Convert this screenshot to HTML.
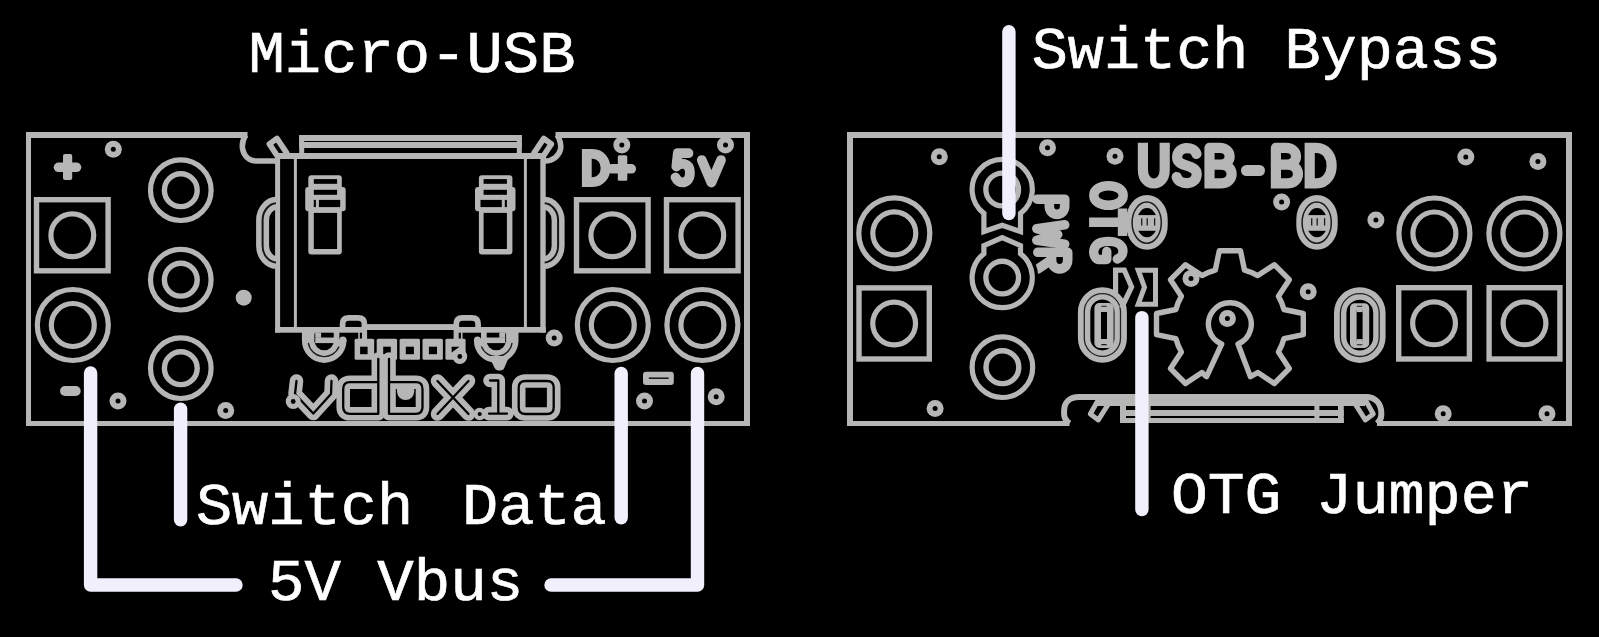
<!DOCTYPE html>
<html><head><meta charset="utf-8"><title>USB-BD board diagram</title>
<style>
html,body{margin:0;padding:0;background:#000;overflow:hidden;}
svg{display:block;font-family:"Liberation Sans",sans-serif;}
</style></head>
<body>
<svg width="1599" height="637" viewBox="0 0 1599 637">
<rect x="0" y="0" width="1599" height="637" fill="#000"/>
<g id="left-board">
<rect x="26" y="132" width="5.00" height="294.00" fill="#b6b6b6" rx="0"/>
<rect x="26" y="132" width="221.50" height="6.00" fill="#b6b6b6" rx="0"/>
<rect x="555.5" y="132" width="194.50" height="6.00" fill="#b6b6b6" rx="0"/>
<rect x="744" y="132" width="6.00" height="294.00" fill="#b6b6b6" rx="0"/>
<rect x="26" y="421" width="724.00" height="5.00" fill="#b6b6b6" rx="0"/>
<path d="M 245.6 135.0 C 243.3 139 241.7 144 242.6 149 C 244 156 249 161 257 161 H 277.5" fill="none" stroke="#b6b6b6" stroke-width="5.6" stroke-linecap="butt" stroke-linejoin="round" />
<path d="M 557.5 134.9 C 559.5 139 561.5 144 560.6 149 C 559 156 553 161 545 161" fill="none" stroke="#b6b6b6" stroke-width="5.6" stroke-linecap="butt" stroke-linejoin="round" />
<path d="M 58.5 167.3 H 76.5" fill="none" stroke="#b6b6b6" stroke-width="9.6" stroke-linecap="round" stroke-linejoin="round" />
<rect x="63.0" y="154" width="9.20" height="26.00" fill="#b6b6b6" rx="2"/>
<path d="M 65 391 H 75.7" fill="none" stroke="#b6b6b6" stroke-width="10" stroke-linecap="round" stroke-linejoin="round" />
<circle cx="113.3" cy="149.3" r="8.5" fill="#b6b6b6"/><circle cx="113.3" cy="149.3" r="2.5" fill="#000"/>
<circle cx="118" cy="401" r="8.5" fill="#b6b6b6"/><circle cx="118" cy="401" r="2.5" fill="#000"/>
<circle cx="225.7" cy="410.5" r="8.5" fill="#b6b6b6"/><circle cx="225.7" cy="410.5" r="2.5" fill="#000"/>
<circle cx="621.8" cy="144.9" r="8.5" fill="#b6b6b6"/><circle cx="621.8" cy="144.9" r="2.5" fill="#000"/>
<circle cx="725.5" cy="144.9" r="8.5" fill="#b6b6b6"/><circle cx="725.5" cy="144.9" r="2.5" fill="#000"/>
<circle cx="554.2" cy="338" r="8.5" fill="#b6b6b6"/><circle cx="554.2" cy="338" r="2.5" fill="#000"/>
<circle cx="644.5" cy="401" r="8.5" fill="#b6b6b6"/><circle cx="644.5" cy="401" r="2.5" fill="#000"/>
<circle cx="716.2" cy="396.8" r="8.5" fill="#b6b6b6"/><circle cx="716.2" cy="396.8" r="2.5" fill="#000"/>
<circle cx="243.7" cy="297.7" r="8" fill="#b6b6b6"/>
<rect x="36.5" y="199.7" width="71.6" height="71.1" fill="none" stroke="#b6b6b6" stroke-width="5.4"/>
<circle cx="72.3" cy="235.25" r="21.40" fill="none" stroke="#b6b6b6" stroke-width="5.2"/>
<circle cx="72.8" cy="325" r="35.50" fill="none" stroke="#b6b6b6" stroke-width="5.2"/>
<circle cx="72.8" cy="325" r="21.50" fill="none" stroke="#b6b6b6" stroke-width="5.2"/>
<circle cx="180.8" cy="190.2" r="30.30" fill="none" stroke="#b6b6b6" stroke-width="5.2"/>
<circle cx="180.8" cy="190.2" r="16.40" fill="none" stroke="#b6b6b6" stroke-width="5.4"/>
<circle cx="180.8" cy="279.7" r="30.30" fill="none" stroke="#b6b6b6" stroke-width="5.2"/>
<circle cx="180.8" cy="279.7" r="16.40" fill="none" stroke="#b6b6b6" stroke-width="5.4"/>
<circle cx="180.8" cy="368.2" r="30.30" fill="none" stroke="#b6b6b6" stroke-width="5.2"/>
<circle cx="180.8" cy="368.2" r="16.40" fill="none" stroke="#b6b6b6" stroke-width="5.4"/>
<rect x="576.5" y="199.7" width="71.6" height="71.1" fill="none" stroke="#b6b6b6" stroke-width="5.4"/>
<circle cx="612.3" cy="235.25" r="21.40" fill="none" stroke="#b6b6b6" stroke-width="5.2"/>
<rect x="666.5" y="199.7" width="71.6" height="71.1" fill="none" stroke="#b6b6b6" stroke-width="5.4"/>
<circle cx="702.3" cy="235.25" r="21.40" fill="none" stroke="#b6b6b6" stroke-width="5.2"/>
<circle cx="612.8" cy="325" r="35.50" fill="none" stroke="#b6b6b6" stroke-width="5.2"/>
<circle cx="612.8" cy="325" r="21.50" fill="none" stroke="#b6b6b6" stroke-width="5.2"/>
<circle cx="702.4" cy="325" r="35.50" fill="none" stroke="#b6b6b6" stroke-width="5.2"/>
<circle cx="702.4" cy="325" r="21.50" fill="none" stroke="#b6b6b6" stroke-width="5.2"/>
<rect x="643" y="371.8" width="30.80" height="13.20" fill="#b6b6b6" rx="3"/>
<path d="M 648.8 378.2 H 668.6" fill="none" stroke="#111" stroke-width="1.5" stroke-linecap="butt" stroke-linejoin="round" />
<rect x="275.1" y="153" width="270.70" height="6.00" fill="#b6b6b6" rx="0"/>
<path d="M 277.6 154 V 332.6" fill="none" stroke="#b6b6b6" stroke-width="5.0" stroke-linecap="butt" stroke-linejoin="round" />
<path d="M 543.0 154 V 332.6" fill="none" stroke="#b6b6b6" stroke-width="5.4" stroke-linecap="butt" stroke-linejoin="round" />
<path d="M 295.4 156 V 330" fill="none" stroke="#b6b6b6" stroke-width="3.0" stroke-linecap="butt" stroke-linejoin="round" />
<path d="M 525.4 156 V 330" fill="none" stroke="#b6b6b6" stroke-width="3.0" stroke-linecap="butt" stroke-linejoin="round" />
<rect x="299.2" y="135" width="222.60" height="6.00" fill="#b6b6b6" rx="0"/>
<rect x="299.2" y="142" width="222.60" height="6.00" fill="#b6b6b6" rx="0"/>
<path d="M 301.7 135.2 V 156" fill="none" stroke="#b6b6b6" stroke-width="5.0" stroke-linecap="butt" stroke-linejoin="round" />
<path d="M 519.3 135.2 V 156" fill="none" stroke="#b6b6b6" stroke-width="5.0" stroke-linecap="butt" stroke-linejoin="round" />
<path d="M 278.3 157.4 L 269.4 144.1 L 276.9 138.4 L 287.4 154.2" fill="none" stroke="#b6b6b6" stroke-width="5.7" stroke-linecap="butt" stroke-linejoin="round" />
<path d="M 542.4 157.4 L 551.3 144.1 L 543.8 138.4 L 533.3 154.2" fill="none" stroke="#b6b6b6" stroke-width="5.7" stroke-linecap="butt" stroke-linejoin="round" />
<rect x="275.1" y="327" width="89.40" height="5.70" fill="#b6b6b6" rx="0"/>
<rect x="456.2" y="327" width="89.60" height="5.70" fill="#b6b6b6" rx="0"/>
<rect x="364.5" y="324.1" width="91.70" height="5.90" fill="#b6b6b6" rx="0"/>
<path d="M 342.6 330 V 324 Q 342.6 317.9 348.8 317.9 H 358.2 Q 364.4 317.9 364.4 324 V 330" fill="none" stroke="#b6b6b6" stroke-width="5.7" stroke-linecap="butt" stroke-linejoin="round" />
<path d="M 456.30000000000007 330 V 324 Q 456.30000000000007 317.9 462.50000000000006 317.9 H 471.90000000000003 Q 478.1 317.9 478.1 324 V 330" fill="none" stroke="#b6b6b6" stroke-width="5.7" stroke-linecap="butt" stroke-linejoin="round" />
<path d="M 308.2 331 V 340.6 A 16 16 0 0 0 340.2 340.6" fill="none" stroke="#b6b6b6" stroke-width="12.6" stroke-linecap="butt" stroke-linejoin="round" />
<rect x="333.7" y="331" width="5.70" height="10.50" fill="#b6b6b6" rx="0"/>
<rect x="339.2" y="339.6" width="7.20" height="1.60" fill="#b6b6b6" rx="0"/>
<circle cx="342.9" cy="340.2" r="3.6" fill="#b6b6b6"/>
<rect x="314.0" y="337.5" width="20.40" height="5.60" fill="#b6b6b6" rx="0"/>
<rect x="313.2" y="332.4" width="7.90" height="5.40" fill="#b6b6b6" rx="0"/>
<path d="M 308.36 342.83 A 16 16 0 0 0 339.03 346.59" fill="none" stroke="#1a1a1a" stroke-width="1.3" stroke-linecap="butt" stroke-linejoin="round" />
<path d="M 314.8 333.4 V 342.5" fill="none" stroke="#1a1a1a" stroke-width="1.0" stroke-linecap="butt" stroke-linejoin="round" />
<path d="M 512.2 331 V 340.6 A 16 16 0 0 1 480.2 340.6" fill="none" stroke="#b6b6b6" stroke-width="12.6" stroke-linecap="butt" stroke-linejoin="round" />
<rect x="481.0" y="331" width="5.70" height="10.50" fill="#b6b6b6" rx="0"/>
<rect x="474.0" y="339.6" width="7.20" height="1.60" fill="#b6b6b6" rx="0"/>
<circle cx="477.5" cy="340.2" r="3.6" fill="#b6b6b6"/>
<rect x="486.0" y="337.5" width="20.40" height="5.60" fill="#b6b6b6" rx="0"/>
<rect x="499.3" y="332.4" width="7.90" height="5.40" fill="#b6b6b6" rx="0"/>
<path d="M 512.04 342.83 A 16 16 0 0 1 481.37 346.59" fill="none" stroke="#1a1a1a" stroke-width="1.3" stroke-linecap="butt" stroke-linejoin="round" />
<path d="M 505.59999999999997 333.4 V 342.5" fill="none" stroke="#1a1a1a" stroke-width="1.0" stroke-linecap="butt" stroke-linejoin="round" />
<path d="M 488.5 356 C 492 362 493.5 366 495 368.5 C 496.6 371.2 502.4 371.2 504 368.5 C 505.5 366 506.5 362 509.5 356 Z" fill="#b6b6b6"/>
<rect x="358.2" y="329" width="8.90" height="11.00" fill="#b6b6b6" rx="0"/>
<rect x="453.6" y="329" width="8.90" height="11.00" fill="#b6b6b6" rx="0"/>
<rect x="359.8" y="332.7" width="2.20" height="6.00" fill="#000" rx="0"/>
<rect x="458.7" y="332.7" width="2.20" height="6.00" fill="#000" rx="0"/>
<rect x="354.6" y="338.7" width="19.60" height="21.10" fill="#b6b6b6" rx="1.5"/>
<rect x="376.7" y="338.7" width="20.40" height="21.10" fill="#b6b6b6" rx="1.5"/>
<rect x="399.6" y="338.7" width="20.40" height="21.10" fill="#b6b6b6" rx="1.5"/>
<rect x="422.5" y="338.7" width="20.40" height="21.10" fill="#b6b6b6" rx="1.5"/>
<rect x="445.4" y="338.7" width="20.20" height="21.10" fill="#b6b6b6" rx="1.5"/>
<rect x="360.1" y="346.7" width="7.50" height="7.50" fill="#000" rx="0"/>
<rect x="383.2" y="346.7" width="7.60" height="7.50" fill="#000" rx="0"/>
<rect x="405.8" y="346.7" width="8.10" height="7.50" fill="#000" rx="0"/>
<rect x="428.9" y="346.7" width="8.10" height="7.50" fill="#000" rx="0"/>
<path d="M 451.6 346.7 H 459.6 L 451.6 352.6 Z" fill="#000"/>
<circle cx="459.8" cy="356.5" r="7.4" fill="#b6b6b6"/><circle cx="459.8" cy="356.5" r="2.4" fill="#000"/>
<rect x="308.3" y="175.2" width="33.50" height="79.30" fill="#b6b6b6" rx="3"/>
<rect x="305.2" y="187" width="40.50" height="24.30" fill="#b6b6b6" rx="3"/>
<rect x="313.8" y="179.1" width="23.30" height="4.70" fill="#000" rx="0"/>
<rect x="313.8" y="189.8" width="23.30" height="5.00" fill="#000" rx="0"/>
<rect x="313.8" y="199.9" width="2.10" height="7.20" fill="#000" rx="0"/>
<rect x="318.9" y="199.9" width="21.30" height="7.20" fill="#000" rx="0"/>
<rect x="313.8" y="212.9" width="23.30" height="36.10" fill="#000" rx="0"/>
<rect x="478.90000000000003" y="175.2" width="33.50" height="79.30" fill="#b6b6b6" rx="3"/>
<rect x="475.00000000000006" y="187" width="40.50" height="24.30" fill="#b6b6b6" rx="3"/>
<rect x="483.6" y="179.1" width="23.30" height="4.70" fill="#000" rx="0"/>
<rect x="483.6" y="189.8" width="23.30" height="5.00" fill="#000" rx="0"/>
<rect x="504.80000000000007" y="199.9" width="2.10" height="7.20" fill="#000" rx="0"/>
<rect x="480.50000000000006" y="199.9" width="21.30" height="7.20" fill="#000" rx="0"/>
<rect x="483.6" y="212.9" width="23.30" height="36.10" fill="#000" rx="0"/>
<path d="M 276 203.3 C 270 203.5 262.6 210 262.6 220 V 246 C 262.6 256 270 262.3 276 262.5" fill="none" stroke="#b6b6b6" stroke-width="13.0" stroke-linecap="butt" stroke-linejoin="round" />
<path d="M 276 203.3 C 270 203.5 262.6 210 262.6 220 V 246 C 262.6 256 270 262.3 276 262.5" fill="none" stroke="#151515" stroke-width="2.0" stroke-linecap="butt" stroke-linejoin="round" />
<path d="M 544.7 203.3 C 550.7 203.5 558.1 210 558.1 220 V 246 C 558.1 256 550.7 262.3 544.7 262.5" fill="none" stroke="#b6b6b6" stroke-width="13.0" stroke-linecap="butt" stroke-linejoin="round" />
<path d="M 544.7 203.3 C 550.7 203.5 558.1 210 558.1 220 V 246 C 558.1 256 550.7 262.3 544.7 262.5" fill="none" stroke="#151515" stroke-width="2.0" stroke-linecap="butt" stroke-linejoin="round" />
</g>
<g id="logo">
<path d="M 296.5 381 L 295 394 L 313.3 413.5 L 331 394 L 331.5 381" fill="none" stroke="#b6b6b6" stroke-width="13.6" stroke-linecap="round" stroke-linejoin="round" />
<path d="M 378.3 359 V 413.8 H 350 Q 343.2 413.8 343.2 407 V 389 Q 343.2 382.2 350 382.2 H 378.3" fill="none" stroke="#b6b6b6" stroke-width="13.6" stroke-linecap="round" stroke-linejoin="round" />
<path d="M 389 359 V 413.8 H 416 Q 422.5 413.8 422.5 407 V 389 Q 422.5 382.2 416 382.2 H 389" fill="none" stroke="#b6b6b6" stroke-width="13.6" stroke-linecap="round" stroke-linejoin="round" />
<path d="M 437.5 381 L 468.5 414 M 468.5 381 L 437.5 414" fill="none" stroke="#b6b6b6" stroke-width="13.6" stroke-linecap="round" stroke-linejoin="round" />
<path d="M 490 380.5 H 498.3 V 413.5 M 489 413.6 H 507" fill="none" stroke="#b6b6b6" stroke-width="13.6" stroke-linecap="round" stroke-linejoin="round" />
<path d="M 525.5 381 H 547 Q 553.7 381 553.7 387.5 V 407.5 Q 553.7 414 547 414 H 525.5 Q 518.7 414 518.7 407.5 V 387.5 Q 518.7 381 525.5 381 Z" fill="none" stroke="#b6b6b6" stroke-width="13.6" stroke-linecap="round" stroke-linejoin="round" />
<circle cx="479.7" cy="414" r="6.2" fill="#b6b6b6"/>
<path d="M 296.5 381 L 295 394 L 313.3 413.5 L 331 394 L 331.5 381" fill="none" stroke="#000" stroke-width="2.3" stroke-linecap="round" stroke-linejoin="round" />
<path d="M 378.3 359 V 413.8 H 350 Q 343.2 413.8 343.2 407 V 389 Q 343.2 382.2 350 382.2 H 378.3" fill="none" stroke="#000" stroke-width="2.3" stroke-linecap="round" stroke-linejoin="round" />
<path d="M 389 359 V 413.8 H 416 Q 422.5 413.8 422.5 407 V 389 Q 422.5 382.2 416 382.2 H 389" fill="none" stroke="#000" stroke-width="2.3" stroke-linecap="round" stroke-linejoin="round" />
<path d="M 437.5 381 L 468.5 414 M 468.5 381 L 437.5 414" fill="none" stroke="#000" stroke-width="2.3" stroke-linecap="round" stroke-linejoin="round" />
<path d="M 490 380.5 H 498.3 V 413.5 M 489 413.6 H 507" fill="none" stroke="#000" stroke-width="2.3" stroke-linecap="round" stroke-linejoin="round" />
<path d="M 525.5 381 H 547 Q 553.7 381 553.7 387.5 V 407.5 Q 553.7 414 547 414 H 525.5 Q 518.7 414 518.7 407.5 V 387.5 Q 518.7 381 525.5 381 Z" fill="none" stroke="#000" stroke-width="2.3" stroke-linecap="round" stroke-linejoin="round" />
<circle cx="479.7" cy="414" r="2.1" fill="#000"/>
<path d="M 397 387.7 H 414.2 V 391.5 A 8.6 8.6 0 0 1 397 391.5 Z" fill="#b6b6b6"/>
<circle cx="293.2" cy="401.5" r="7.5" fill="#b6b6b6"/><circle cx="293.2" cy="401.5" r="2.4" fill="#000"/>
</g>
<g id="right-board">
<rect x="847" y="132" width="6.00" height="294.00" fill="#b6b6b6" rx="0"/>
<rect x="847" y="132" width="725.00" height="6.00" fill="#b6b6b6" rx="0"/>
<rect x="1566" y="132" width="6.00" height="294.00" fill="#b6b6b6" rx="0"/>
<rect x="847" y="421" width="222.50" height="5.00" fill="#b6b6b6" rx="0"/>
<rect x="1377" y="421" width="195.00" height="5.00" fill="#b6b6b6" rx="0"/>
<path d="M 1069.5 423.5 C 1066 421 1064.1 419 1064.1 414 V 411 C 1064.1 402 1070 397 1079 397 H 1100" fill="none" stroke="#b6b6b6" stroke-width="6" stroke-linecap="butt" stroke-linejoin="round" />
<path d="M 1377 423.5 C 1380 421 1381.3 419 1381.3 415 V 413 C 1381.3 403 1375 397 1366 397 H 1350" fill="none" stroke="#b6b6b6" stroke-width="6" stroke-linecap="butt" stroke-linejoin="round" />
<rect x="1096" y="394" width="269.00" height="12.00" fill="#b6b6b6" rx="0"/>
<rect x="1120" y="410" width="223.70" height="6.00" fill="#b6b6b6" rx="0"/>
<rect x="1120" y="418" width="223.70" height="5.00" fill="#b6b6b6" rx="0"/>
<rect x="1120" y="404" width="6.00" height="19.00" fill="#b6b6b6" rx="0"/>
<rect x="1148" y="404" width="2.60" height="19.00" fill="#b6b6b6" rx="0"/>
<rect x="1314.4" y="404" width="5.00" height="19.00" fill="#b6b6b6" rx="0"/>
<rect x="1338" y="404" width="5.75" height="19.00" fill="#b6b6b6" rx="0"/>
<path d="M 1098.5 399.5 L 1090.3 414.0 L 1098.3 419.9 L 1110.3 401.0" fill="none" stroke="#b6b6b6" stroke-width="5.0" stroke-linecap="butt" stroke-linejoin="round" />
<path d="M 1365.1 399.5 L 1373.3 414.0 L 1365.3 419.9 L 1353.3 401.0" fill="none" stroke="#b6b6b6" stroke-width="5.0" stroke-linecap="butt" stroke-linejoin="round" />
<circle cx="894.3" cy="233.3" r="35.50" fill="none" stroke="#b6b6b6" stroke-width="5.2"/>
<circle cx="894.3" cy="233.3" r="21.50" fill="none" stroke="#b6b6b6" stroke-width="5.2"/>
<rect x="859.0" y="287.9" width="70.30000000000004" height="71.1" fill="none" stroke="#b6b6b6" stroke-width="5.4"/>
<circle cx="894.15" cy="323.45" r="21.40" fill="none" stroke="#b6b6b6" stroke-width="5.2"/>
<circle cx="1434.4" cy="233.5" r="35.50" fill="none" stroke="#b6b6b6" stroke-width="5.2"/>
<circle cx="1434.4" cy="233.5" r="21.50" fill="none" stroke="#b6b6b6" stroke-width="5.2"/>
<circle cx="1524.4" cy="233.5" r="35.50" fill="none" stroke="#b6b6b6" stroke-width="5.2"/>
<circle cx="1524.4" cy="233.5" r="21.50" fill="none" stroke="#b6b6b6" stroke-width="5.2"/>
<rect x="1398.7" y="287.7" width="70.6999999999999" height="71.29999999999998" fill="none" stroke="#b6b6b6" stroke-width="5.4"/>
<circle cx="1434.05" cy="323.35" r="21.40" fill="none" stroke="#b6b6b6" stroke-width="5.2"/>
<rect x="1489.1000000000001" y="287.7" width="70.79999999999981" height="71.29999999999998" fill="none" stroke="#b6b6b6" stroke-width="5.4"/>
<circle cx="1524.5" cy="323.35" r="21.40" fill="none" stroke="#b6b6b6" stroke-width="5.2"/>
<circle cx="1002.4" cy="367.2" r="30.30" fill="none" stroke="#b6b6b6" stroke-width="5.2"/>
<circle cx="1002.4" cy="367.2" r="16.40" fill="none" stroke="#b6b6b6" stroke-width="5.4"/>
<path d="M 983.9 231.5 V 213.4 A 30.1 30.1 0 1 1 1020.5 213.4 V 231.5 L 1002.2 225.2 Z" fill="none" stroke="#b6b6b6" stroke-width="5.2" stroke-linecap="butt" stroke-linejoin="miter" />
<path d="M 983.9 245.6 V 253.7 A 30.1 30.1 0 1 0 1020.5 253.7 V 245.6 L 1002.2 237.6 Z" fill="none" stroke="#b6b6b6" stroke-width="5.2" stroke-linecap="butt" stroke-linejoin="miter" />
<circle cx="1002.2" cy="189.5" r="16.35" fill="none" stroke="#b6b6b6" stroke-width="5.3"/>
<circle cx="1002.2" cy="277.6" r="16.35" fill="none" stroke="#b6b6b6" stroke-width="5.3"/>
<circle cx="939.3" cy="156.8" r="8.5" fill="#b6b6b6"/><circle cx="939.3" cy="156.8" r="2.5" fill="#000"/>
<circle cx="1047.5" cy="147.8" r="8.5" fill="#b6b6b6"/><circle cx="1047.5" cy="147.8" r="2.5" fill="#000"/>
<circle cx="1115" cy="156.3" r="8.5" fill="#b6b6b6"/><circle cx="1115" cy="156.3" r="2.5" fill="#000"/>
<circle cx="1281.6" cy="202" r="8.5" fill="#b6b6b6"/><circle cx="1281.6" cy="202" r="2.5" fill="#000"/>
<circle cx="1465.8" cy="156.9" r="8.5" fill="#b6b6b6"/><circle cx="1465.8" cy="156.9" r="2.5" fill="#000"/>
<circle cx="1537.9" cy="161.4" r="8.5" fill="#b6b6b6"/><circle cx="1537.9" cy="161.4" r="2.5" fill="#000"/>
<circle cx="1375.9" cy="220" r="8.5" fill="#b6b6b6"/><circle cx="1375.9" cy="220" r="2.5" fill="#000"/>
<circle cx="935.1" cy="408.6" r="8.5" fill="#b6b6b6"/><circle cx="935.1" cy="408.6" r="2.5" fill="#000"/>
<circle cx="1443.2" cy="413.7" r="8.5" fill="#b6b6b6"/><circle cx="1443.2" cy="413.7" r="2.5" fill="#000"/>
<circle cx="1547" cy="413.7" r="8.5" fill="#b6b6b6"/><circle cx="1547" cy="413.7" r="2.5" fill="#000"/>
<circle cx="1308.2" cy="291.8" r="8.5" fill="#b6b6b6"/><circle cx="1308.2" cy="291.8" r="2.5" fill="#000"/>
<circle cx="1191" cy="278.4" r="8.5" fill="#b6b6b6"/><circle cx="1191" cy="278.4" r="2.5" fill="#000"/>
<circle cx="1227.4" cy="318.6" r="8.5" fill="#b6b6b6"/><circle cx="1227.4" cy="318.6" r="2.5" fill="#000"/>
</g>
<g id="gear">
<path d="M 1221.7 344.0 L 1206.6 376.6 L 1202.0 372.6 L 1185.5 383.5 L 1170.5 368.5 L 1181.4 352.0 A 56 56 0 0 1 1175.9 338.7 L 1156.5 334.7 L 1156.5 313.5 L 1175.9 309.5 A 56 56 0 0 1 1181.4 296.2 L 1170.5 279.7 L 1185.5 264.7 L 1202.0 275.6 A 56 56 0 0 1 1215.3 270.1 L 1219.3 250.7 L 1240.5 250.7 L 1244.5 270.1 A 56 56 0 0 1 1257.8 275.6 L 1274.3 264.7 L 1289.3 279.7 L 1278.4 296.2 A 56 56 0 0 1 1283.9 309.5 L 1303.3 313.5 L 1303.3 334.7 L 1283.9 338.7 A 56 56 0 0 1 1278.4 352.0 L 1289.3 368.5 L 1274.3 383.5 L 1257.8 372.6 L 1250.4 376.6 L 1238.0 344.0 A 21.4 21.4 0 1 0 1221.7 344.0 Z" fill="none" stroke="#b6b6b6" stroke-width="5.4" stroke-linecap="butt" stroke-linejoin="round" />
</g>
<g id="silk">
<path d="M 1142.90 147.90 L 1142.90 169.91 C 1142.90 188.01 1164.70 188.01 1164.70 169.91 L 1164.70 147.90" fill="none" stroke="#b6b6b6" stroke-width="10.2" stroke-linecap="square" stroke-linejoin="round" />
<path d="M 1196.49 153.94 C 1194.04 145.77 1177.11 145.41 1177.11 157.49 C 1177.11 167.78 1196.69 163.52 1196.69 174.17 C 1196.69 185.88 1179.15 185.53 1176.70 177.01" fill="none" stroke="#b6b6b6" stroke-width="10.2" stroke-linecap="round" stroke-linejoin="round" />
<path d="M 1209.50 147.90 L 1209.50 183.40 L 1220.60 183.40 C 1235.25 183.40 1235.25 164.59 1220.60 164.59 L 1209.50 164.59 M 1220.60 164.59 C 1232.81 164.59 1232.81 147.90 1219.49 147.90 L 1209.50 147.90" fill="none" stroke="#b6b6b6" stroke-width="10.2" stroke-linecap="round" stroke-linejoin="miter" />
<path d="M 1246.5 170.5 H 1259.5" fill="none" stroke="#b6b6b6" stroke-width="11" stroke-linecap="round" stroke-linejoin="round" />
<path d="M 1275.90 147.90 L 1275.90 183.40 L 1287.00 183.40 C 1301.65 183.40 1301.65 164.59 1287.00 164.59 L 1275.90 164.59 M 1287.00 164.59 C 1299.21 164.59 1299.21 147.90 1285.89 147.90 L 1275.90 147.90" fill="none" stroke="#b6b6b6" stroke-width="10.2" stroke-linecap="round" stroke-linejoin="miter" />
<path d="M 1309.70 147.90 L 1309.70 183.40 L 1316.30 183.40 C 1336.76 183.40 1336.76 147.90 1316.30 147.90 Z" fill="none" stroke="#b6b6b6" stroke-width="10.2" stroke-linecap="round" stroke-linejoin="miter" />
<path d="M 586.80 153.90 L 586.80 182.10 L 592.44 182.10 C 609.92 182.10 609.92 153.90 592.44 153.90 Z" fill="none" stroke="#b6b6b6" stroke-width="9.8" stroke-linecap="round" stroke-linejoin="miter" />
<path d="M 612 168.8 H 631.3" fill="none" stroke="#b6b6b6" stroke-width="9.6" stroke-linecap="round" stroke-linejoin="round" />
<rect x="617.8" y="155.2" width="9.50" height="25.60" fill="#b6b6b6" rx="1.5"/>
<path d="M 688.46 153.20 L 677.80 153.20 L 676.36 166.49 C 679.82 162.45 689.90 161.87 689.90 172.85 C 689.90 184.99 678.38 184.41 675.50 177.48" fill="none" stroke="#b6b6b6" stroke-width="9.8" stroke-linecap="round" stroke-linejoin="round" />
<path d="M 701.80 160.10 L 711.40 182.50 L 721.00 160.10" fill="none" stroke="#b6b6b6" stroke-width="9.8" stroke-linecap="round" stroke-linejoin="round" />
<path d="M 1123.20 195.50 C 1123.20 182.43 1093.80 182.43 1093.80 195.50 C 1093.80 208.57 1123.20 208.57 1123.20 195.50 Z" fill="none" stroke="#b6b6b6" stroke-width="9.4" stroke-linecap="round" stroke-linejoin="round" />
<path d="M 1122.50 213.20 L 1122.50 231.30 M 1122.50 222.25 L 1093.80 222.25" fill="none" stroke="#b6b6b6" stroke-width="9.4" stroke-linecap="square" stroke-linejoin="round" />
<path d="M 1117.32 258.96 C 1125.26 256.24 1126.73 241.40 1108.50 241.40 C 1090.27 241.40 1091.74 256.78 1097.92 259.50 L 1106.74 259.50 L 1106.74 251.54" fill="none" stroke="#b6b6b6" stroke-width="9.4" stroke-linecap="round" stroke-linejoin="round" />
<path d="M 1037.20 199.20 L 1064.70 199.20 L 1064.70 206.04 C 1064.70 217.14 1049.30 217.14 1049.30 206.04 L 1049.30 199.20" fill="none" stroke="#b6b6b6" stroke-width="9.6" stroke-linecap="round" stroke-linejoin="round" />
<path d="M 1064.70 224.80 L 1036.80 228.68 L 1057.72 234.50 L 1036.80 240.32 L 1064.70 244.20" fill="none" stroke="#b6b6b6" stroke-width="9.6" stroke-linecap="round" stroke-linejoin="round" />
<clipPath id="rclip"><path d="M 1000 150 H 1100 V 320 H 1000 Z M 956.2 277.6 a 41 41 0 1 0 82 0 a 41 41 0 1 0 -82 0 Z" clip-rule="evenodd"/></clipPath>
<g clip-path="url(#rclip)">
<path d="M 1037.80 252.30 L 1067.70 252.30 L 1067.70 259.77 C 1067.70 271.89 1051.55 271.89 1051.55 259.77 L 1051.55 252.30 M 1051.55 259.77 L 1037.80 268.90" fill="none" stroke="#b6b6b6" stroke-width="9.6" stroke-linecap="round" stroke-linejoin="round" />
</g>
</g>
<rect x="1126.3" y="195.0" width="41.4" height="54.8" rx="20.7" ry="24" fill="#b6b6b6"/>
<ellipse cx="1146.7" cy="222.70000000000002" rx="14.6" ry="20.6" fill="none" stroke="#1c1c1c" stroke-width="1.5"/>
<ellipse cx="1147" cy="222.70000000000002" rx="10.4" ry="14.6" fill="#000"/>
<rect x="1135.5" y="215.1" width="22.50" height="15.70" fill="#b6b6b6" rx="0"/>
<path d="M 1141.7 218.20000000000002 V 225.6" fill="none" stroke="#1c1c1c" stroke-width="1.3" stroke-linecap="butt" stroke-linejoin="round" />
<path d="M 1147.2 218.20000000000002 V 225.6" fill="none" stroke="#1c1c1c" stroke-width="1.3" stroke-linecap="butt" stroke-linejoin="round" />
<path d="M 1154.6 218.20000000000002 V 225.6" fill="none" stroke="#1c1c1c" stroke-width="1.3" stroke-linecap="butt" stroke-linejoin="round" />
<rect x="1296.3" y="195.0" width="41.4" height="54.8" rx="20.7" ry="24" fill="#b6b6b6"/>
<ellipse cx="1316.7" cy="222.70000000000002" rx="14.6" ry="20.6" fill="none" stroke="#1c1c1c" stroke-width="1.5"/>
<ellipse cx="1317" cy="222.70000000000002" rx="10.4" ry="14.6" fill="#000"/>
<rect x="1305.5" y="215.1" width="22.50" height="15.70" fill="#b6b6b6" rx="0"/>
<path d="M 1311.7 218.20000000000002 V 225.6" fill="none" stroke="#1c1c1c" stroke-width="1.3" stroke-linecap="butt" stroke-linejoin="round" />
<path d="M 1317.2 218.20000000000002 V 225.6" fill="none" stroke="#1c1c1c" stroke-width="1.3" stroke-linecap="butt" stroke-linejoin="round" />
<path d="M 1324.6 218.20000000000002 V 225.6" fill="none" stroke="#1c1c1c" stroke-width="1.3" stroke-linecap="butt" stroke-linejoin="round" />
<rect x="1084.1000000000001" y="293.4" width="36.6" height="63.2" rx="18.3" fill="none" stroke="#b6b6b6" stroke-width="12.4"/>
<rect x="1084.3000000000002" y="293.6" width="36.2" height="62.8" rx="18.1" fill="none" stroke="#222" stroke-width="1.3"/>
<rect x="1097.7" y="306.4" width="12.6" height="38.2" rx="1.5" fill="none" stroke="#b6b6b6" stroke-width="6.6"/>
<rect x="1100.9" y="309" width="6.20" height="3.00" fill="#b6b6b6" rx="0"/>
<rect x="1100.9" y="339" width="6.20" height="3.00" fill="#b6b6b6" rx="0"/>
<path d="M 1101.3 306.2 H 1106.7 M 1101.3 344.6 H 1106.7" fill="none" stroke="#1c1c1c" stroke-width="1.1" stroke-linecap="butt" stroke-linejoin="round" />
<rect x="1340.2" y="293.5" width="39.2" height="63.2" rx="19.6" fill="none" stroke="#b6b6b6" stroke-width="12.4"/>
<rect x="1340.4" y="293.70000000000005" width="38.800000000000004" height="62.8" rx="19.400000000000002" fill="none" stroke="#222" stroke-width="1.3"/>
<rect x="1353.3" y="306.5" width="12.6" height="38.2" rx="1.5" fill="none" stroke="#b6b6b6" stroke-width="6.6"/>
<rect x="1356.5" y="309.1" width="6.20" height="3.00" fill="#b6b6b6" rx="0"/>
<rect x="1356.5" y="339.1" width="6.20" height="3.00" fill="#b6b6b6" rx="0"/>
<path d="M 1356.8999999999999 306.3 H 1362.3 M 1356.8999999999999 344.70000000000005 H 1362.3" fill="none" stroke="#1c1c1c" stroke-width="1.1" stroke-linecap="butt" stroke-linejoin="round" />
<path d="M 1115.6 293 V 270.2 H 1124.3 L 1131.6 287 L 1121.5 308" fill="none" stroke="#b6b6b6" stroke-width="5.2" stroke-linecap="butt" stroke-linejoin="miter" />
<path d="M 1138.2 270.2 H 1155.5 V 304.2 H 1138.2 L 1144.5 287.2 Z" fill="none" stroke="#b6b6b6" stroke-width="5.0" stroke-linecap="butt" stroke-linejoin="miter" />
<g id="labels">
<path d="M 90.6 373 V 585 H 236" fill="none" stroke="#f2effd" stroke-width="13.4" stroke-linecap="round" stroke-linejoin="round" />
<path d="M 180.6 409.2 V 519.8" fill="none" stroke="#f2effd" stroke-width="13.4" stroke-linecap="round" stroke-linejoin="round" />
<path d="M 621.2 373.5 V 517.8" fill="none" stroke="#f2effd" stroke-width="13.4" stroke-linecap="round" stroke-linejoin="round" />
<path d="M 697.5 373.5 V 585 H 551" fill="none" stroke="#f2effd" stroke-width="13.4" stroke-linecap="round" stroke-linejoin="round" />
<path d="M 1008.9 31.7 V 213.6" fill="none" stroke="#f2effd" stroke-width="13.4" stroke-linecap="round" stroke-linejoin="round" />
<path d="M 1141.9 317.6 V 509.6" fill="none" stroke="#f2effd" stroke-width="13.4" stroke-linecap="round" stroke-linejoin="round" />
<text x="248.5" y="72" font-family="Liberation Mono" font-size="60" fill="#fff" stroke="#fff" stroke-width="0.7" textLength="327.0" lengthAdjust="spacingAndGlyphs">Micro-USB</text>
<text x="1031.7" y="67.5" font-family="Liberation Mono" font-size="60" fill="#fff" stroke="#fff" stroke-width="0.7" textLength="469.5" lengthAdjust="spacingAndGlyphs">Switch Bypass</text>
<text x="195.9" y="524.2" font-family="Liberation Mono" font-size="60" fill="#fff" stroke="#fff" stroke-width="0.7" textLength="217.20000000000002" lengthAdjust="spacingAndGlyphs">Switch</text>
<text x="462" y="524.2" font-family="Liberation Mono" font-size="60" fill="#fff" stroke="#fff" stroke-width="0.7" textLength="144.79999999999995" lengthAdjust="spacingAndGlyphs">Data</text>
<text x="268" y="599.6" font-family="Liberation Mono" font-size="60" fill="#fff" stroke="#fff" stroke-width="0.7" textLength="255.20000000000005" lengthAdjust="spacingAndGlyphs">5V Vbus</text>
<text x="1171" y="513.3" font-family="Liberation Mono" font-size="60" fill="#fff" stroke="#fff" stroke-width="0.7" textLength="110.40000000000009" lengthAdjust="spacingAndGlyphs">OTG</text>
<text x="1316.3" y="513.3" font-family="Liberation Mono" font-size="60" fill="#fff" stroke="#fff" stroke-width="0.7" textLength="216.5999999999999" lengthAdjust="spacingAndGlyphs">Jumper</text>
</g>
</svg>
</body></html>
